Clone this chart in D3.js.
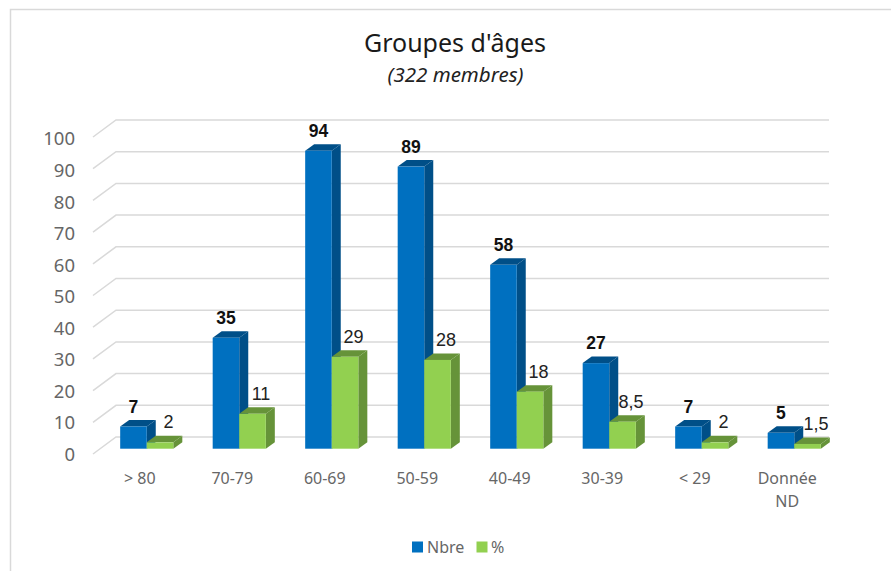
<!DOCTYPE html>
<html>
<head>
<meta charset="utf-8">
<script src="https://cdn.jsdelivr.net/npm/d3@7"></script>
<style>
  html, body { margin: 0; padding: 0; background: #fff; }
  svg { display: block; font-family: "Noto Sans", Arial, sans-serif; }
</style>
</head>
<body>
<div id="graph_area"></div>
<script>
const categories = ['> 80', '70-79', '60-69', '50-59', '40-49', '30-39', '< 29', 'Donnée|ND'];
const nbre = [7, 35, 94, 89, 58, 27, 7, 5];
const pct = [2, 11, 29, 28, 18, 8.5, 2, 1.5];
const pctLabels = ['2', '11', '29', '28', '18', '8,5', '2', '1,5'];
const yTicks = [0, 10, 20, 30, 40, 50, 60, 70, 80, 90, 100];

const width = 891;
const height = 571;
const uiFont = '"Noto Sans", Arial, sans-serif';
const labelFont = '"Liberation Sans", Arial, sans-serif';

// Fake 3D depth of the bars and of the floor
const depth = { x: 9, y: 6.5 };
const wall = { x: 23, y: 17 };

const svg = d3.select('#graph_area')
  .append('svg')
    .attr('width', width)
    .attr('height', height);

// Frame (the screenshot crops it on the right and at the bottom)
svg.append('path')
  .attr('d', 'M10.5,571V9.5H891')
  .attr('fill', 'none')
  .attr('stroke', '#d9d9d9')
  .attr('stroke-width', 1.5);

// Scales
const x = d3.scaleBand()
  .domain(categories)
  .range([100.5, 840.5])
  .paddingInner(0.4255)
  .paddingOuter(0.2128);
const inner = d3.scaleBand()
  .domain(['nbre', 'pct'])
  .range([0, x.bandwidth()]);
const y = d3.scaleLinear()
  .domain([0, 100])
  .range([448.7, 131.7]);
// Tick labels sit on a slightly tighter spacing than the bars
const yLabel = d3.scaleLinear()
  .domain([0, 100])
  .range([454.5, 139]);

// Title
svg.append('text')
  .attr('x', 455).attr('y', 52)
  .attr('text-anchor', 'middle')
  .attr('font-size', 25)
  .attr('fill', '#1a1a1a')
  .text("Groupes d'âges");
svg.append('text')
  .attr('x', 455.5).attr('y', 82)
  .attr('text-anchor', 'middle')
  .attr('font-size', 20.5)
  .attr('font-style', 'italic')
  .attr('fill', '#222')
  .text('(322 membres)');

// Grid: front slant then back wall line
svg.append('g')
  .selectAll('path')
  .data(yTicks)
  .join('path')
    .attr('fill', 'none')
    .attr('stroke', '#d9d9d9')
    .attr('stroke-width', 1.5)
    .attr('d', d => {
      const yb = y(d) - 11.7;
      return `M93,${yb + wall.y}L116,${yb}H829`;
    });

// Y axis labels
const yAxis = svg.append('g')
  .attr('transform', 'translate(75,0)')
  .call(d3.axisLeft(yLabel).tickValues(yTicks).tickSize(0).tickPadding(0));
yAxis.select('.domain').remove();
yAxis.selectAll('text')
  .attr('font-size', 18.5)
  .attr('font-family', uiFont)
  .attr('fill', '#666');

// X axis labels
const xAxis = svg.append('g')
  .attr('transform', 'translate(-7,484)')
  .call(d3.axisBottom(x).tickSize(0).tickPadding(0).tickFormat(() => ''));
xAxis.select('.domain').remove();
xAxis.selectAll('text')
  .attr('dy', 0)
  .attr('y', 0)
  .attr('font-size', 16)
  .attr('font-family', uiFont)
  .attr('fill', '#666')
  .each(function(d) {
    d.split('|').forEach((part, i) => {
      d3.select(this).append('tspan')
        .attr('x', 0)
        .attr('y', i * 23)
        .text(part);
    });
  });

// Draws one series as 3D bars
function drawBars(key, values, front, top, side) {
  const w = inner.bandwidth();
  const g = svg.append('g').selectAll('g')
    .data(values)
    .join('g')
      .attr('transform', (d, i) => `translate(${x(categories[i]) + inner(key)},0)`);
  g.append('path')
    .attr('fill', side)
    .attr('d', d => `M${w},${y(d)}l${depth.x},${-depth.y}V${y(0) - depth.y}L${w},${y(0)}Z`);
  g.append('path')
    .attr('fill', top)
    .attr('d', d => `M0,${y(d)}l${depth.x},${-depth.y}h${w}l${-depth.x},${depth.y}Z`);
  g.append('rect')
    .attr('y', d => y(d))
    .attr('width', w)
    .attr('height', d => y(0) - y(d))
    .attr('fill', front);
}

drawBars('nbre', nbre, '#0070c0', '#004f88', '#004f88');
drawBars('pct', pct, '#92d050', '#669339', '#669339');

// Value labels
svg.append('g').selectAll('text')
  .data(nbre)
  .join('text')
    .attr('x', (d, i) => x(categories[i]) + inner('nbre') + inner.bandwidth() / 2)
    .attr('y', d => y(d) - 14)
    .attr('text-anchor', 'middle')
    .attr('font-size', 17.5)
    .attr('font-family', labelFont)
    .attr('font-weight', 'bold')
    .attr('fill', '#111')
    .text(d => d);
svg.append('g').selectAll('text')
  .data(pct)
  .join('text')
    .attr('x', (d, i) => x(categories[i]) + inner('pct') + inner.bandwidth() / 2 + 8.5)
    .attr('y', d => y(d) - 14)
    .attr('text-anchor', 'middle')
    .attr('font-size', 18)
    .attr('font-family', labelFont)
    .attr('fill', '#222')
    .text((d, i) => pctLabels[i]);

// Legend
const legend = svg.append('g').attr('transform', 'translate(412,541.5)');
legend.append('rect').attr('width', 11).attr('height', 11).attr('fill', '#0070c0');
legend.append('text').attr('x', 15).attr('y', 11).attr('font-size', 16).attr('fill', '#666').text('Nbre');
legend.append('rect').attr('x', 64.5).attr('width', 11).attr('height', 11).attr('fill', '#92d050');
legend.append('text').attr('x', 79).attr('y', 11).attr('font-size', 16).attr('fill', '#666').text('%');
</script>
</body>
</html>
